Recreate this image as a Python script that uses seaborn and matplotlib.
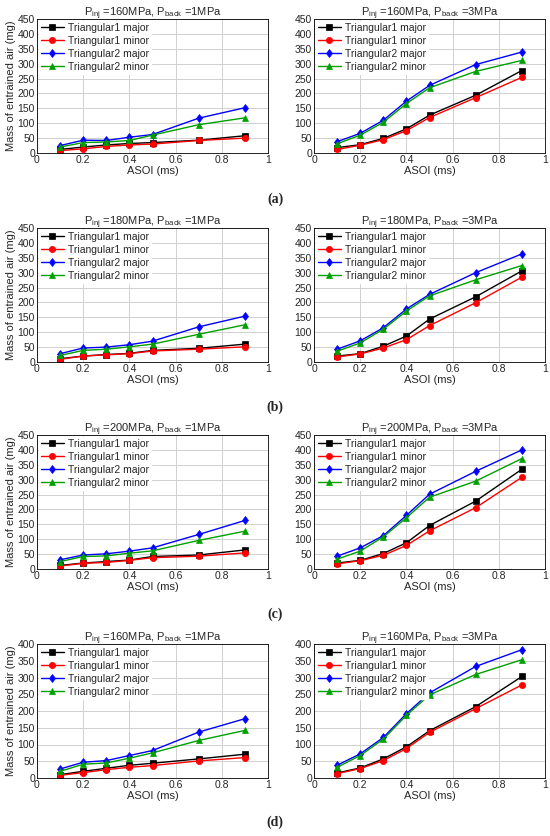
import pandas as pd
import matplotlib
matplotlib.use("Agg")
import matplotlib.pyplot as plt
import seaborn as sns

# ASOI time points (ms)
asoi = [0.1, 0.2, 0.3, 0.4, 0.5, 0.7, 0.9]
series_names = ["Triangular1 major", "Triangular1 minor", "Triangular2 major", "Triangular2 minor"]

# panel titles (P_inj, P_back)
titles = [("160", "1"), ("160", "3"), ("180", "1"), ("180", "3"),
          ("200", "1"), ("200", "3"), ("160", "1"), ("160", "3")]
panel_tags = ["(a)", "(b)", "(c)", "(d)"]

# mass of entrained air (mg), one list per series per panel
a1_t1_major = [12, 20, 27, 32, 35, 43, 58]
a1_t1_minor = [8, 14, 22, 27, 30, 42, 50]
a1_t2_major = [25, 43, 42, 53, 62, 117, 152]
a1_t2_minor = [20, 35, 37, 42, 60, 95, 118]

a2_t1_major = [18, 28, 49, 81, 127, 194, 277]
a2_t1_minor = [12, 26, 45, 75, 119, 186, 254]
a2_t2_major = [38, 66, 110, 174, 227, 297, 339]
a2_t2_minor = [31, 60, 103, 166, 219, 274, 311]

b1_t1_major = [11, 20, 25, 29, 39, 46, 60]
b1_t1_minor = [9, 20, 24, 28, 37, 43, 51]
b1_t2_major = [28, 47, 50, 58, 70, 118, 154]
b1_t2_minor = [22, 39, 43, 51, 60, 93, 125]

b2_t1_major = [20, 28, 53, 87, 144, 219, 306]
b2_t1_minor = [17, 27, 47, 75, 122, 199, 285]
b2_t2_major = [43, 71, 115, 178, 227, 300, 363]
b2_t2_minor = [36, 64, 110, 171, 222, 276, 324]

c1_t1_major = [12, 20, 25, 30, 42, 47, 64]
c1_t1_minor = [10, 19, 22, 29, 38, 43, 54]
c1_t2_major = [31, 47, 51, 60, 71, 116, 163]
c1_t2_minor = [25, 42, 44, 53, 61, 96, 127]

c2_t1_major = [20, 29, 52, 88, 146, 228, 335]
c2_t1_minor = [17, 28, 46, 79, 128, 206, 308]
c2_t2_major = [43, 71, 112, 180, 251, 328, 400]
c2_t2_minor = [33, 60, 108, 172, 241, 295, 371]

d1_t1_major = [10, 20, 29, 38, 44, 57, 71]
d1_t1_minor = [8, 16, 25, 32, 37, 51, 61]
d1_t2_major = [27, 47, 52, 67, 82, 137, 177]
d1_t2_minor = [20, 41, 45, 59, 75, 112, 142]

d2_t1_major = [15, 30, 57, 93, 141, 213, 303]
d2_t1_minor = [13, 28, 52, 88, 136, 207, 278]
d2_t2_major = [38, 72, 121, 192, 254, 333, 383]
d2_t2_minor = [32, 67, 116, 187, 248, 309, 353]

panels = [
    [a1_t1_major, a1_t1_minor, a1_t2_major, a1_t2_minor],
    [a2_t1_major, a2_t1_minor, a2_t2_major, a2_t2_minor],
    [b1_t1_major, b1_t1_minor, b1_t2_major, b1_t2_minor],
    [b2_t1_major, b2_t1_minor, b2_t2_major, b2_t2_minor],
    [c1_t1_major, c1_t1_minor, c1_t2_major, c1_t2_minor],
    [c2_t1_major, c2_t1_minor, c2_t2_major, c2_t2_minor],
    [d1_t1_major, d1_t1_minor, d1_t2_major, d1_t2_minor],
    [d2_t1_major, d2_t1_minor, d2_t2_major, d2_t2_minor],
]

palette = dict(zip(series_names, ["black", "red", "blue", "#00a000"]))
markers = dict(zip(series_names, ["s", "o", "d", "^"]))

sns.set_style("white")
plt.rcParams['font.family'] = ['Liberation Sans', 'DejaVu Sans']
plt.rcParams['mathtext.fontset'] = 'custom'
plt.rcParams['mathtext.rm'] = 'Liberation Sans'

fig = plt.figure(figsize=(5.5, 8.36), dpi=100)

lefts = [37 / 550, 314 / 550]
width = 231 / 550
height = 134 / 836
bottoms = [1 - 153 / 836, 1 - 362 / 836, 1 - 569 / 836, 1 - 778 / 836]
tag_y = [1 - 199 / 836, 1 - 407 / 836, 1 - 614 / 836, 1 - 822 / 836]

for i, vals in enumerate(panels):
    row, col = divmod(i, 2)
    ax = fig.add_axes([lefts[col], bottoms[row], width, height])

    df = pd.DataFrame({
        "x": asoi * 4,
        "y": [v for s in vals for v in s],
        "series": [n for n in series_names for _ in asoi],
    })
    sns.lineplot(data=df, x="x", y="y", hue="series", style="series",
                 palette=palette, markers=markers, dashes=False,
                 markersize=4.5, linewidth=1, ax=ax)
    # MATLAB-style markers: edge same colour as face
    for ln in ax.lines:
        ln.set_markeredgecolor(ln.get_color())
        ln.set_markeredgewidth(0.5)

    ymax = 400 if row == 3 else 450
    ax.set_xlim(0, 1)
    ax.set_ylim(0, ymax)
    ax.set_xticks([0, 0.2, 0.4, 0.6, 0.8, 1])
    ax.set_xticklabels(["0", "0.2", "0.4", "0.6", "0.8", "1"])
    ax.set_yticks(range(0, ymax + 1, 50))
    ax.grid(True, color="#d0d0d0", linewidth=0.7)
    ax.set_axisbelow(True)
    for sp in ax.spines.values():
        sp.set_color("black")
        sp.set_linewidth(0.6)
    ax.tick_params(labelsize=7.5, direction="in", length=2, pad=1.5, width=0.6)

    ax.set_xlabel("ASOI (ms)", fontsize=8, labelpad=1)
    if col == 0:
        ax.set_ylabel("Mass of entrained air (mg)", fontsize=8, labelpad=1)
    else:
        ax.set_ylabel("")

    pinj, pback = titles[i]
    ax.set_title(r"P$_{\rm inj}$ =" + pinj + r"MPa, P$_{\rm back}$ =" + pback + "MPa",
                 fontsize=8, pad=2)

    leg = ax.legend(loc="upper left", fontsize=7.5, frameon=True, fancybox=False,
                    borderaxespad=0.15, borderpad=0.2, labelspacing=0.3,
                    handlelength=2.2, handletextpad=0.4)
    leg.get_frame().set_facecolor("white")
    leg.get_frame().set_edgecolor("white")
    leg.get_frame().set_alpha(1)
    for ln in leg.get_lines():
        ln.set_markeredgecolor(ln.get_color())
        ln.set_markeredgewidth(0.5)

for r in range(4):
    fig.text(0.5, tag_y[r], panel_tags[r], ha="center", va="center",
             fontsize=10, fontweight="bold", family="Liberation Serif")

fig.savefig("out.png", dpi=100)
